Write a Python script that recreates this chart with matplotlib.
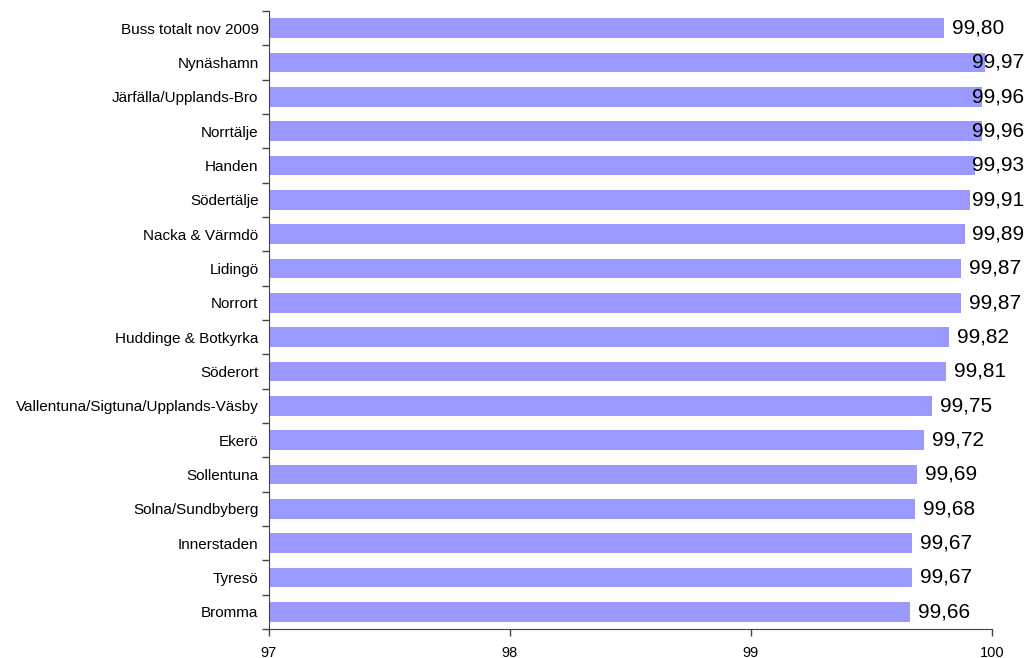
import matplotlib.pyplot as plt
import numpy as np

plt.rcParams['font.family'] = ['Liberation Sans', 'DejaVu Sans']

# Areas and their values (top to bottom)
areas = ['Buss totalt nov 2009', 'Nynäshamn', 'Järfälla/Upplands-Bro', 'Norrtälje',
         'Handen', 'Södertälje', 'Nacka & Värmdö', 'Lidingö', 'Norrort',
         'Huddinge & Botkyrka', 'Söderort', 'Vallentuna/Sigtuna/Upplands-Väsby',
         'Ekerö', 'Sollentuna', 'Solna/Sundbyberg', 'Innerstaden', 'Tyresö', 'Bromma']
values = [99.80, 99.97, 99.96, 99.96, 99.93, 99.91, 99.89, 99.87, 99.87,
          99.82, 99.81, 99.75, 99.72, 99.69, 99.68, 99.67, 99.67, 99.66]
xticks = [97, 98, 99, 100]

fig = plt.figure(figsize=(10.27, 6.58), dpi=100)
ax = fig.add_axes([0.2619, 0.0441, 0.7040, 0.9392])

y = np.arange(len(areas))
ax.barh(y, [v - 97 for v in values], left=97, height=0.57, color='#9999FF')

ax.set_xlim(97, 100)
ax.set_ylim(len(areas) - 0.5, -0.5)

ax.set_xticks(xticks)
ax.set_xticklabels([str(t) for t in xticks], fontsize=10.5)
ax.set_yticks(y)
ax.set_yticklabels(areas, fontsize=11)
ax.set_yticks(np.arange(len(areas) + 1) - 0.5, minor=True)
ax.tick_params(axis='y', which='major', length=0, pad=7.5)
ax.tick_params(axis='y', which='minor', length=5, width=1, color='#444444')
ax.tick_params(axis='x', length=5, width=1, color='#444444', pad=7)

for side in ['top', 'right']:
    ax.spines[side].set_visible(False)
for side in ['left', 'bottom']:
    ax.spines[side].set_color('#444444')

# Value labels: just past the bar end, but kept inside the figure
fig.canvas.draw()
renderer = fig.canvas.get_renderer()
to_px = ax.transData
fig_right = fig.bbox.width - 3
for yi, v in zip(y, values):
    txt = f'{v:.2f}'.replace('.', ',')
    t = ax.text(v, yi, txt, fontsize=15, va='center', ha='left')
    w = t.get_window_extent(renderer).width
    x_px = to_px.transform((v, yi))[0] + 8
    x_px = min(x_px, fig_right - w)
    x_data = to_px.inverted().transform((x_px, 0))[0]
    t.set_x(x_data)

fig.savefig('out.png', dpi=100)
